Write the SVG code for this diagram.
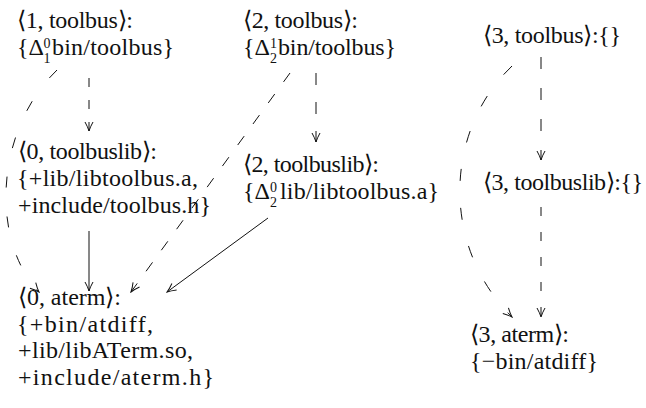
<svg xmlns="http://www.w3.org/2000/svg" width="646" height="408" viewBox="0 0 646 408">
  <style>
    text { font-family: "Liberation Serif", serif; font-size: 24px; fill: #111; }
    .sm { font-size: 14px; }
    .edge { fill: none; stroke: #111; stroke-width: 1; }
  </style>
  <defs>
    <marker id="arrow" markerUnits="userSpaceOnUse" viewBox="-11 -6 12 12" refX="0" refY="0" markerWidth="12" markerHeight="12" orient="auto">
      <path d="M-9,-4 Q-4,-1.2 0,0 Q-4,1.2 -9,4" fill="none" stroke="#111" stroke-width="1"/>
    </marker>
  </defs>

  <g id="edges">
    <!-- 1,toolbus -> 0,toolbuslib -->
    <path class="edge" style="stroke-dasharray:9 13" d="M89,78 L89,131" marker-end="url(#arrow)"/>
    <!-- 1,toolbus -> 0,aterm (curved) -->
    <path class="edge" style="stroke-dasharray:11 29" d="M57,70 C-5,130 -10,240 39,292" marker-end="url(#arrow)"/>
    <!-- 2,toolbus -> 0,aterm -->
    <path class="edge" style="stroke-dasharray:11 15" d="M290,73 L131,292" marker-end="url(#arrow)"/>
    <!-- 2,toolbus -> 2,toolbuslib -->
    <path class="edge" style="stroke-dasharray:12 17" d="M316,73 L316,142" marker-end="url(#arrow)"/>
    <!-- 0,toolbuslib -> 0,aterm -->
    <path class="edge" d="M89,231 L89,291" marker-end="url(#arrow)"/>
    <!-- 2,toolbuslib -> 0,aterm -->
    <path class="edge" d="M268,218 L167,292" marker-end="url(#arrow)"/>
    <!-- 3,toolbus -> 3,toolbuslib -->
    <path class="edge" style="stroke-dasharray:12 19" d="M541,57 L541,160" marker-end="url(#arrow)"/>
    <!-- 3,toolbuslib -> 3,aterm -->
    <path class="edge" style="stroke-dasharray:9 16" d="M541,207 L541,317" marker-end="url(#arrow)"/>
    <!-- 3,toolbus -> 3,aterm (curved) -->
    <path class="edge" style="stroke-dasharray:12 27" d="M512,66 C445,130 440,245 512,317" marker-end="url(#arrow)"/>
  </g>

  <g id="n1-toolbus">
    <text x="17" y="28" textLength="116" lengthAdjust="spacing">⟨1, toolbus⟩:</text>
    <text x="17" y="55" textLength="27" lengthAdjust="spacing">{Δ</text>
    <text class="sm" x="43.5" y="48">0</text>
    <text class="sm" x="43.5" y="63">1</text>
    <text x="52" y="55" textLength="122" lengthAdjust="spacing">bin/toolbus}</text>
  </g>

  <g id="n2-toolbus">
    <text x="243" y="28" textLength="115" lengthAdjust="spacing">⟨2, toolbus⟩:</text>
    <text x="243" y="55" textLength="27" lengthAdjust="spacing">{Δ</text>
    <text class="sm" x="270" y="48">1</text>
    <text class="sm" x="270" y="63">2</text>
    <text x="278" y="55" textLength="118" lengthAdjust="spacing">bin/toolbus}</text>
  </g>

  <g id="n3-toolbus">
    <text x="483" y="43" textLength="138" lengthAdjust="spacing">⟨3, toolbus⟩:{}</text>
  </g>

  <g id="n0-toolbuslib">
    <text x="18" y="159" textLength="139" lengthAdjust="spacing">⟨0, toolbuslib⟩:</text>
    <text x="17" y="186" textLength="181" lengthAdjust="spacing">{+lib/libtoolbus.a,</text>
    <text x="18" y="213" textLength="193" lengthAdjust="spacing">+include/toolbus.h}</text>
  </g>

  <g id="n2-toolbuslib">
    <text x="243" y="172" textLength="136" lengthAdjust="spacing">⟨2, toolbuslib⟩:</text>
    <text x="243" y="199" textLength="27" lengthAdjust="spacing">{Δ</text>
    <text class="sm" x="270" y="192">0</text>
    <text class="sm" x="270" y="207">2</text>
    <text x="280" y="199" textLength="159" lengthAdjust="spacing">lib/libtoolbus.a}</text>
  </g>

  <g id="n3-toolbuslib">
    <text x="483" y="190" textLength="160" lengthAdjust="spacing">⟨3, toolbuslib⟩:{}</text>
  </g>

  <g id="n0-aterm">
    <text x="18" y="305" textLength="103" lengthAdjust="spacing">⟨0, aterm⟩:</text>
    <text x="17" y="332" textLength="136" lengthAdjust="spacing">{+bin/atdiff,</text>
    <text x="18" y="358" textLength="175" lengthAdjust="spacing">+lib/libATerm.so,</text>
    <text x="18" y="385" textLength="196" lengthAdjust="spacing">+include/aterm.h}</text>
  </g>

  <g id="n3-aterm">
    <text x="470" y="342" textLength="99" lengthAdjust="spacing">⟨3, aterm⟩:</text>
    <text x="470" y="369" textLength="128" lengthAdjust="spacing">{−bin/atdiff}</text>
  </g>
</svg>
